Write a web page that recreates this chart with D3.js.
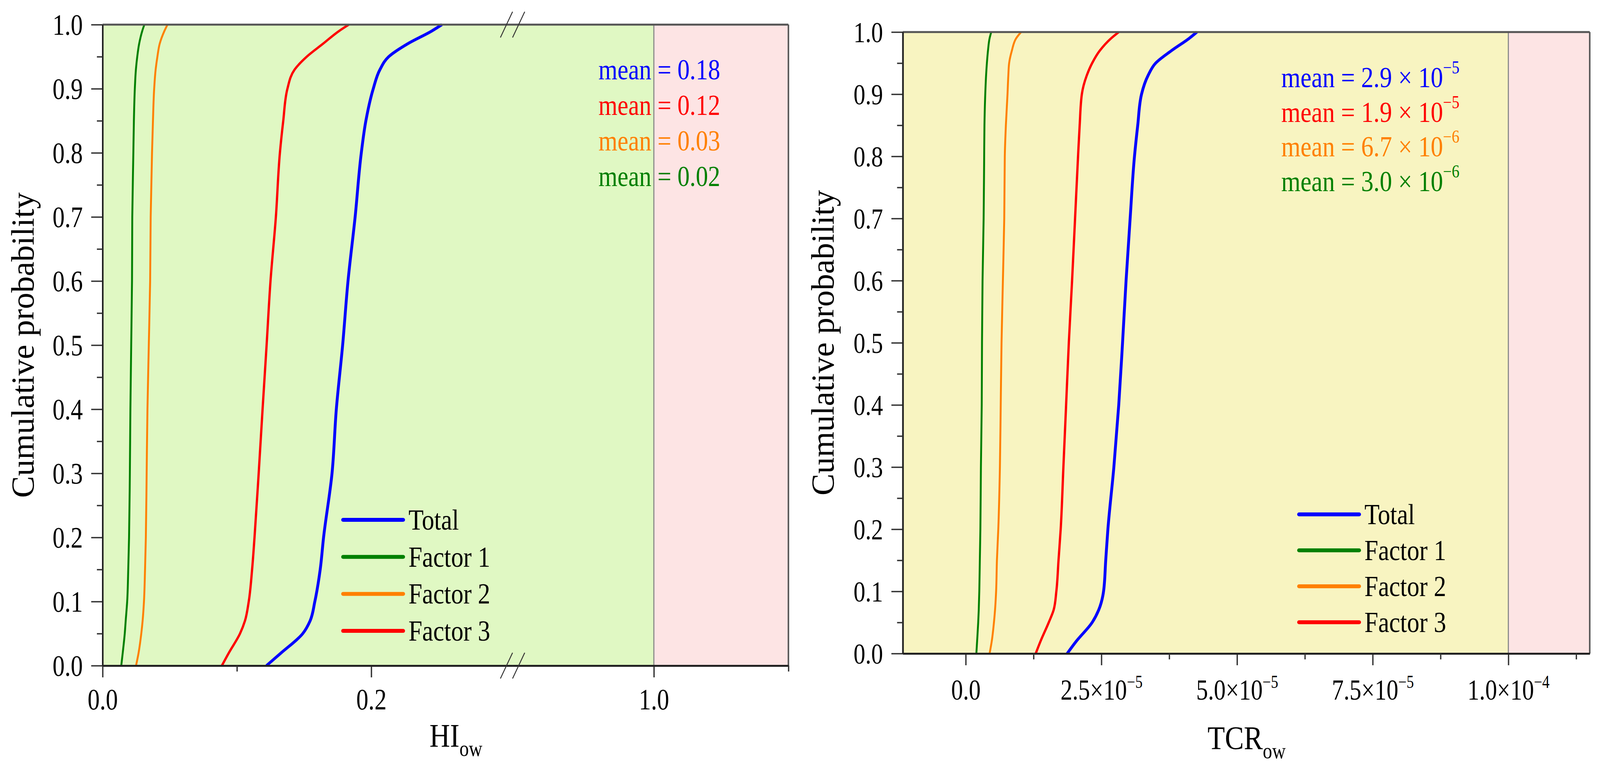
<!DOCTYPE html>
<html>
<head>
<meta charset="utf-8">
<script src="https://cdn.jsdelivr.net/npm/d3@7"></script>
<style>
  html, body { margin: 0; padding: 0; background: #fff; overflow: hidden; width: 100%; height: 100%; }
  svg { display: block; }
  svg text { font-family: "Liberation Serif", "Times New Roman", serif; }
</style>
</head>
<body>
<script>
// cumulative probability levels shared by every curve
var probs = [0, 0.02, 0.05, 0.07, 0.1, 0.15, 0.2, 0.3, 0.4, 0.5, 0.6, 0.7, 0.8, 0.85, 0.9, 0.93, 0.95, 0.97, 0.99, 1.0];

// HI_ow values
var hiTotal = [0.122, 0.133, 0.149, 0.1545, 0.158, 0.162, 0.1645, 0.1708, 0.174, 0.1787, 0.1827, 0.188, 0.1926, 0.196, 0.2015, 0.2065, 0.213, 0.227, 0.245, 0.2526];
var hiF1 = [0.0139, 0.0150, 0.0165, 0.0172, 0.0183, 0.0191, 0.0197, 0.0203, 0.0207, 0.0213, 0.0219, 0.0221, 0.0229, 0.0233, 0.0240, 0.0248, 0.0258, 0.0272, 0.0295, 0.0311];
var hiF2 = [0.0249, 0.0268, 0.0288, 0.0298, 0.0308, 0.0316, 0.0322, 0.0328, 0.0334, 0.0344, 0.0354, 0.0358, 0.0368, 0.0375, 0.0384, 0.0395, 0.0408, 0.0425, 0.0460, 0.0483];
var hiF3 = [0.0888, 0.094, 0.1023, 0.106, 0.1088, 0.1113, 0.1131, 0.1162, 0.1191, 0.1221, 0.125, 0.129, 0.132, 0.1345, 0.1376, 0.143, 0.152, 0.164, 0.176, 0.1833];

// TCR_ow values, in units of 1e-5
var tcrTotal = [1.87, 2.04, 2.33, 2.45, 2.54, 2.58, 2.62, 2.73, 2.82, 2.89, 2.955, 3.03, 3.11, 3.17, 3.24, 3.36, 3.50, 3.79, 4.12, 4.26];
var tcrF1 = [0.196, 0.21, 0.23, 0.24, 0.25, 0.26, 0.27, 0.28, 0.295, 0.30, 0.31, 0.33, 0.34, 0.345, 0.36, 0.375, 0.39, 0.41, 0.44, 0.47];
var tcrF2 = [0.44, 0.48, 0.52, 0.54, 0.56, 0.575, 0.60, 0.63, 0.645, 0.66, 0.685, 0.71, 0.72, 0.74, 0.77, 0.785, 0.80, 0.85, 0.93, 1.02];
var tcrF3 = [1.29, 1.38, 1.53, 1.62, 1.67, 1.71, 1.75, 1.80, 1.85, 1.90, 1.96, 2.015, 2.07, 2.10, 2.14, 2.23, 2.33, 2.47, 2.68, 2.82];
var tcrUnit = 1e-5;

var seriesNames = ["Total", "Factor 1", "Factor 2", "Factor 3"];
var seriesColors = ["#0000ff", "#008000", "#ff8000", "#ff0000"];

// mean labels, top to bottom (Total, Factor 3, Factor 2, Factor 1)
var meanOrder = [0, 3, 2, 1];
var hiMeans = ["0.18", "0.12", "0.03", "0.02"];
var tcrMeans = ["2.9", "1.9", "6.7", "3.0"];
var tcrMeanExp = ["-5", "-5", "-6", "-6"];

// tick values / labels
var yMajor = [0, 0.1, 0.2, 0.3, 0.4, 0.5, 0.6, 0.7, 0.8, 0.9, 1.0];
var yMinor = [0.05, 0.15, 0.25, 0.35, 0.45, 0.55, 0.65, 0.75, 0.85, 0.95];
var hiMajor1 = [0, 0.2], hiMinor1 = [0.1];
var hiMajor2 = [1.0], hiMinor2 = [1.1];
var tcrMajor = [0, 2.5e-5, 5.0e-5, 7.5e-5, 1.0e-4];
var tcrMinor = [1.25e-5, 3.75e-5, 6.25e-5, 8.75e-5, 1.125e-4];
var tcrTickMant = ["0.0", "2.5", "5.0", "7.5", "1.0"];
var tcrTickExp = [null, "-5", "-5", "-5", "-4"];

var FONT = '"Liberation Serif","Times New Roman",serif';
var SX = 0.84;   // glyphs in the figure are a little narrow
var W = 4211, H = 1970;

// viewBox so the whole figure always fills the window
var svg = d3.select("body").append("svg")
    .attr("viewBox", "0 0 " + W + " " + H)
    .attr("preserveAspectRatio", "none")
    .style("width", "100vw")
    .style("height", "100vh")
    .attr("font-family", FONT);

function toPoints(vals, unit) {
    return vals.map(function(v, i) { return { v: v * (unit || 1), p: probs[i] }; });
}

function styleAxis(g, width) {
    g.attr("font-family", FONT);
    g.select(".domain").attr("stroke", "#222").attr("stroke-width", width);
    g.selectAll(".tick line").attr("stroke", "#333").attr("stroke-width", 3.5);
}

function yAxes(g, y, left, labelSize) {
    var major = g.append("g").attr("transform", "translate(" + left + ",0)")
        .call(d3.axisLeft(y).tickValues(yMajor).tickSize(30).tickSizeOuter(0).tickFormat(d3.format(".1f")));
    styleAxis(major, 4);
    major.selectAll("text")
        .attr("x", -52 / SX).attr("dy", null).attr("y", labelSize * 0.34)
        .attr("transform", "scale(" + SX + ",1)")
        .attr("font-size", labelSize).attr("fill", "#000");
    var minor = g.append("g").attr("transform", "translate(" + left + ",0)")
        .call(d3.axisLeft(y).tickValues(yMinor).tickSize(15).tickSizeOuter(0).tickFormat(""));
    styleAxis(minor, 4);
}

function drawCurves(g, x, y, series) {
    var line = d3.line()
        .x(function(d) { return x(d.v); })
        .y(function(d) { return y(d.p); })
        .curve(d3.curveMonotoneY);
    var widths = [7.5, 5, 5, 6];
    [1, 2, 3, 0].forEach(function(i) {
        g.append("path")
            .datum(series[i])
            .attr("d", line)
            .attr("fill", "none")
            .attr("stroke", seriesColors[i])
            .attr("stroke-width", widths[i])
            .attr("stroke-linejoin", "round");
    });
}

function drawLegend(g, x0, y0, step) {
    seriesNames.forEach(function(name, i) {
        var yy = y0 + i * step;
        g.append("line")
            .attr("x1", x0).attr("x2", x0 + 158)
            .attr("y1", yy).attr("y2", yy)
            .attr("stroke", seriesColors[i])
            .attr("stroke-width", 10)
            .attr("stroke-linecap", "round");
        g.append("text")
            .attr("transform", "translate(" + (x0 + 172) + "," + (yy + 25) + ") scale(0.88,1)")
            .attr("font-size", 74)
            .text(name);
    });
}

function yTitle(g, x, y) {
    g.append("text")
        .attr("transform", "translate(" + x + "," + y + ") rotate(-90)")
        .attr("text-anchor", "middle")
        .attr("font-size", 84)
        .text("Cumulative probability");
}

function xTitle(g, x, y, main) {
    var t = g.append("text")
        .attr("transform", "translate(" + x + "," + y + ") scale(0.88,1)")
        .attr("text-anchor", "middle")
        .attr("font-size", 85);
    t.append("tspan").text(main);
    t.append("tspan").attr("dy", 23).attr("font-size", 56).text("ow");
}

// ***** LEFT PANEL : HI *****
var left = svg.append("g");
var yL = d3.scaleLinear().domain([0, 1]).range([1703, 63]);
var xL1 = d3.scaleLinear().domain([0, 0.3052]).range([270, 1349]);
var xL2 = d3.scaleLinear().domain([0.895, 1.1]).range([1349, 2075]);

left.append("rect")
    .attr("x", xL1(0)).attr("y", yL(1))
    .attr("width", xL2(1.0) - xL1(0)).attr("height", yL(0) - yL(1))
    .attr("fill", "#e0f8c3");
left.append("rect")
    .attr("x", xL2(1.0)).attr("y", yL(1))
    .attr("width", xL2(1.1) - xL2(1.0)).attr("height", yL(0) - yL(1))
    .attr("fill", "#fde4e4");
left.append("line")
    .attr("x1", xL2(1.0)).attr("x2", xL2(1.0))
    .attr("y1", yL(1)).attr("y2", yL(0))
    .attr("stroke", "#8a8a8a").attr("stroke-width", 3);

drawCurves(left, xL1, yL, [toPoints(hiTotal), toPoints(hiF1), toPoints(hiF2), toPoints(hiF3)]);

// frame top / right
left.append("line").attr("x1", 270).attr("x2", xL2(1.1)).attr("y1", yL(1)).attr("y2", yL(1))
    .attr("stroke", "#555").attr("stroke-width", 5);
left.append("line").attr("x1", xL2(1.1)).attr("x2", xL2(1.1)).attr("y1", yL(1)).attr("y2", yL(0))
    .attr("stroke", "#555").attr("stroke-width", 4);

yAxes(left, yL, 270, 76);

[[xL1, hiMajor1, hiMinor1], [xL2, hiMajor2, hiMinor2]].forEach(function(seg) {
    var major = left.append("g").attr("transform", "translate(0," + yL(0) + ")")
        .call(d3.axisBottom(seg[0]).tickValues(seg[1]).tickSize(30).tickSizeOuter(0).tickFormat(d3.format(".1f")));
    styleAxis(major, 5);
    major.selectAll("text")
        .attr("y", 112).attr("dy", null)
        .attr("transform", "scale(" + SX + ",1)")
        .attr("font-size", 76).attr("fill", "#000");
    var minor = left.append("g").attr("transform", "translate(0," + yL(0) + ")")
        .call(d3.axisBottom(seg[0]).tickValues(seg[2]).tickSize(15).tickSizeOuter(0).tickFormat(""));
    styleAxis(minor, 5);
});

// axis break marks
[yL(1), yL(0)].forEach(function(yy) {
    [-16, 16].forEach(function(dx) {
        left.append("line")
            .attr("x1", 1349 + dx - 16).attr("y1", yy + 33)
            .attr("x2", 1349 + dx + 16).attr("y2", yy - 33)
            .attr("stroke", "#333").attr("stroke-width", 2.5);
    });
});

meanOrder.forEach(function(si, i) {
    left.append("text")
        .attr("transform", "translate(1575," + (203 + i * 91) + ") scale(0.87,1)")
        .attr("fill", seriesColors[si])
        .attr("font-size", 74)
        .text("mean = " + hiMeans[i]);
});

drawLegend(left, 903, 1330, 94.7);
yTitle(left, 88, 883);
xTitle(left, 1200, 1911, "HI");

// ***** RIGHT PANEL : TCR *****
var right = svg.append("g");
var yR = d3.scaleLinear().domain([0, 1]).range([1672, 82]);
var xR = d3.scaleLinear().domain([-1.16e-5, 1.15e-4]).range([2376, 4184]);

right.append("rect")
    .attr("x", xR.range()[0]).attr("y", yR(1))
    .attr("width", xR(1e-4) - xR.range()[0]).attr("height", yR(0) - yR(1))
    .attr("fill", "#f8f4c1");
right.append("rect")
    .attr("x", xR(1e-4)).attr("y", yR(1))
    .attr("width", xR.range()[1] - xR(1e-4)).attr("height", yR(0) - yR(1))
    .attr("fill", "#fde4e4");
right.append("line")
    .attr("x1", xR(1e-4)).attr("x2", xR(1e-4))
    .attr("y1", yR(1)).attr("y2", yR(0))
    .attr("stroke", "#8a8a8a").attr("stroke-width", 3);

drawCurves(right, xR, yR, [toPoints(tcrTotal, tcrUnit), toPoints(tcrF1, tcrUnit), toPoints(tcrF2, tcrUnit), toPoints(tcrF3, tcrUnit)]);

right.append("line").attr("x1", 2376).attr("x2", 4184).attr("y1", yR(1)).attr("y2", yR(1))
    .attr("stroke", "#555").attr("stroke-width", 5);
right.append("line").attr("x1", 4184).attr("x2", 4184).attr("y1", yR(1)).attr("y2", yR(0))
    .attr("stroke", "#555").attr("stroke-width", 4);

yAxes(right, yR, 2376, 74);

var rMajor = right.append("g").attr("transform", "translate(0," + yR(0) + ")")
    .call(d3.axisBottom(xR).tickValues(tcrMajor).tickSize(30).tickSizeOuter(0));
styleAxis(rMajor, 5);
rMajor.selectAll("text")
    .attr("y", 118).attr("dy", null)
    .attr("transform", "scale(" + SX + ",1)")
    .attr("font-size", 74).attr("fill", "#000")
    .text(null)
    .each(function(d, i) {
        var t = d3.select(this);
        if (tcrTickExp[i] === null) {
            t.append("tspan").text(tcrTickMant[i]);
        } else {
            t.append("tspan").text(tcrTickMant[i] + "×10");
            t.append("tspan").attr("dy", -30).attr("font-size", 46).text(tcrTickExp[i].replace("-", "−"));
        }
    });
var rMinor = right.append("g").attr("transform", "translate(0," + yR(0) + ")")
    .call(d3.axisBottom(xR).tickValues(tcrMinor).tickSize(15).tickSizeOuter(0).tickFormat(""));
styleAxis(rMinor, 5);

meanOrder.forEach(function(si, i) {
    var t = right.append("text")
        .attr("transform", "translate(3372," + (223 + i * 88.5) + ") scale(0.88,1)")
        .attr("fill", seriesColors[si])
        .attr("font-size", 74);
    t.append("tspan").text("mean = " + tcrMeans[i] + " × 10");
    t.append("tspan").attr("dy", -35).attr("font-size", 46).text(tcrMeanExp[i].replace("-", "−"));
});

drawLegend(right, 3419, 1316, 92);
yTitle(right, 2194, 877);
xTitle(right, 3281, 1917, "TCR");
</script>
</body>
</html>
